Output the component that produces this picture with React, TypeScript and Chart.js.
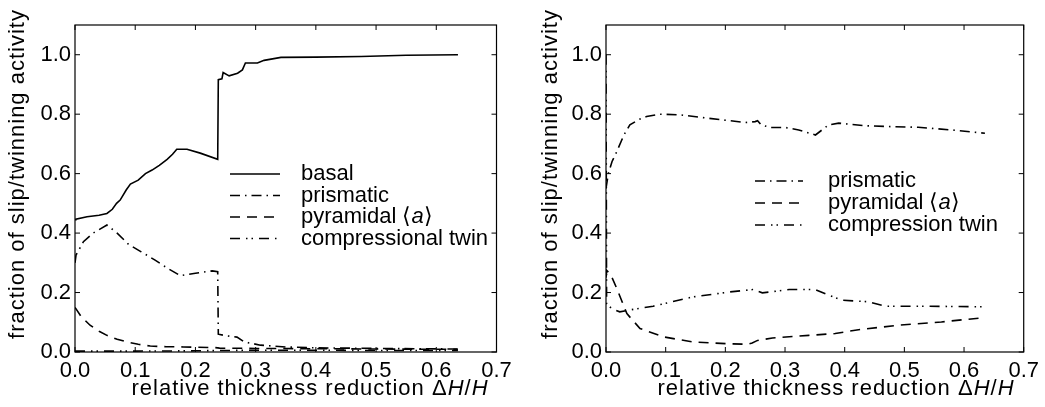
import React, { useEffect, useRef } from 'react';
import { Chart, registerables } from 'chart.js';
Chart.register(...registerables);

const FONT = '"Liberation Sans", Arial, sans-serif';
const FONT_SIZE = 22;

const xTicks = [0, 0.1, 0.2, 0.3, 0.4, 0.5, 0.6, 0.7];
const yTicks = [0, 0.2, 0.4, 0.6, 0.8, 1.0];

// ---- Left panel ----
const basalX = [0, 0.0015, 0.02, 0.04, 0.053, 0.062, 0.069, 0.075, 0.085, 0.092, 0.105, 0.117, 0.128, 0.14, 0.153, 0.162, 0.169, 0.186, 0.208, 0.237, 0.238, 0.244, 0.246, 0.256, 0.27, 0.278, 0.283, 0.303, 0.314, 0.342, 0.4, 0.475, 0.55, 0.636];
const basalY = [0.445, 0.447, 0.455, 0.46, 0.466, 0.48, 0.5, 0.511, 0.545, 0.565, 0.578, 0.6, 0.612, 0.628, 0.648, 0.665, 0.682, 0.682, 0.669, 0.648, 0.916, 0.919, 0.94, 0.929, 0.938, 0.949, 0.972, 0.972, 0.981, 0.991, 0.992, 0.994, 0.998, 1.0];

const prismLX = [0, 0.0017, 0.014, 0.03, 0.053, 0.07, 0.089, 0.11, 0.133, 0.155, 0.175, 0.2, 0.228, 0.237, 0.238, 0.25, 0.269, 0.281, 0.308, 0.35, 0.4, 0.5, 0.636];
const prismLY = [0.3, 0.326, 0.371, 0.4, 0.427, 0.4, 0.362, 0.337, 0.309, 0.28, 0.257, 0.265, 0.273, 0.27, 0.06, 0.055, 0.05, 0.034, 0.023, 0.017, 0.014, 0.012, 0.01];

const pyrLX = [0, 0.01, 0.025, 0.04, 0.053, 0.07, 0.086, 0.105, 0.125, 0.15, 0.18, 0.23, 0.237, 0.24, 0.3, 0.4, 0.5, 0.636];
const pyrLY = [0.15, 0.12, 0.09, 0.07, 0.056, 0.043, 0.034, 0.026, 0.02, 0.018, 0.017, 0.015, 0.014, 0.013, 0.012, 0.011, 0.01, 0.009];

const twinLX = [0, 0.1, 0.2, 0.24, 0.3, 0.4, 0.5, 0.636];
const twinLY = [0.003, 0.003, 0.004, 0.005, 0.006, 0.006, 0.005, 0.005];

// ---- Right panel ----
const prismRX = [0, 0.004, 0.01, 0.018, 0.03, 0.04, 0.055, 0.068, 0.09, 0.123, 0.168, 0.234, 0.25, 0.254, 0.26, 0.276, 0.301, 0.323, 0.351, 0.373, 0.39, 0.434, 0.479, 0.523, 0.579, 0.635];
const prismRY = [0.55, 0.601, 0.64, 0.674, 0.73, 0.764, 0.782, 0.792, 0.8, 0.798, 0.787, 0.772, 0.775, 0.778, 0.764, 0.755, 0.755, 0.747, 0.73, 0.764, 0.77, 0.761, 0.758, 0.756, 0.747, 0.736];

const pyrRX = [0, 0.001, 0.008, 0.018, 0.035, 0.057, 0.096, 0.145, 0.201, 0.237, 0.245, 0.254, 0.279, 0.34, 0.384, 0.423, 0.49, 0.562, 0.635];
const pyrRY = [0.25, 0.275, 0.26, 0.214, 0.129, 0.079, 0.051, 0.034, 0.028, 0.026, 0.03, 0.039, 0.047, 0.056, 0.062, 0.075, 0.09, 0.101, 0.116];

const twinRX = [0, 0.001, 0.01, 0.023, 0.05, 0.079, 0.145, 0.207, 0.246, 0.262, 0.307, 0.351, 0.373, 0.396, 0.44, 0.468, 0.535, 0.635];
const twinRY = [1.0, 0.163, 0.145, 0.135, 0.145, 0.154, 0.185, 0.202, 0.21, 0.199, 0.21, 0.21, 0.191, 0.174, 0.169, 0.154, 0.154, 0.152];

const DASH_SOLID: number[] = [];
const DASH_DASHDOT = [10, 5, 1.5, 5];
const DASH_DASHED = [10, 7];
const DASH_DASHDOTDOT = [10, 6, 1.5, 4, 1.5, 6];

type Seg = { t: string; i?: boolean };
const yLabelSegs: Seg[] = [{ t: 'fraction of slip/twinning activity' }];
const xLabelSegs: Seg[] = [{ t: 'relative thickness reduction Δ' }, { t: 'H', i: true }, { t: '/' }, { t: 'H', i: true }];

const leftSeries = [
  { label: [{ t: 'basal' }] as Seg[], x: basalX, y: basalY, dash: DASH_SOLID },
  { label: [{ t: 'prismatic' }] as Seg[], x: prismLX, y: prismLY, dash: DASH_DASHDOT },
  { label: [{ t: 'pyramidal ⟨' }, { t: 'a', i: true }, { t: '⟩' }] as Seg[], x: pyrLX, y: pyrLY, dash: DASH_DASHED },
  { label: [{ t: 'compressional twin' }] as Seg[], x: twinLX, y: twinLY, dash: DASH_DASHDOTDOT },
];
const rightSeries = [
  { label: [{ t: 'prismatic' }] as Seg[], x: prismRX, y: prismRY, dash: DASH_DASHDOT },
  { label: [{ t: 'pyramidal ⟨' }, { t: 'a', i: true }, { t: '⟩' }] as Seg[], x: pyrRX, y: pyrRY, dash: DASH_DASHED },
  { label: [{ t: 'compression twin' }] as Seg[], x: twinRX, y: twinRY, dash: DASH_DASHDOTDOT },
];

function fontFor(seg: Seg) {
  return `${seg.i ? 'italic ' : ''}${FONT_SIZE}px ${FONT}`;
}

function drawRich(ctx: any, segs: Seg[], x: number, y: number, align: 'left' | 'center', spacing: number) {
  ctx.save();
  ctx.letterSpacing = `${spacing}px`;
  let total = 0;
  const widths = segs.map((s) => {
    ctx.font = fontFor(s);
    const w = ctx.measureText(s.t).width;
    total += w;
    return w;
  });
  let cx = align === 'center' ? x - total / 2 : x;
  ctx.textBaseline = 'middle';
  ctx.textAlign = 'left';
  segs.forEach((s, k) => {
    ctx.font = fontFor(s);
    ctx.fillText(s.t, cx, y);
    cx += widths[k];
  });
  ctx.restore();
}

type Layout = {
  W: number;
  areaLeft: number;
  areaRight: number;
  legendX0: number;
  legendX1: number;
  legendTextX: number;
  legendRows: number[];
  yLabelPos: [number, number];
  xLabelPos: [number, number];
};

function makePlugin(series: typeof leftSeries, lay: Layout) {
  return {
    id: 'frameAndLegend',
    afterDraw(chart: any) {
      const { ctx, chartArea: a, scales } = chart;
      ctx.save();
      ctx.strokeStyle = '#000';
      ctx.fillStyle = '#000';
      ctx.setLineDash([]);
      ctx.lineWidth = 1.2;
      ctx.strokeRect(a.left, a.top, a.right - a.left, a.bottom - a.top);
      ctx.lineWidth = 1;
      const TL = 5;
      xTicks.forEach((v) => {
        const px = scales.x.getPixelForValue(v);
        ctx.beginPath();
        ctx.moveTo(px, a.bottom);
        ctx.lineTo(px, a.bottom - TL);
        ctx.moveTo(px, a.top);
        ctx.lineTo(px, a.top + TL);
        ctx.stroke();
      });
      yTicks.forEach((v) => {
        const py = scales.y.getPixelForValue(v);
        ctx.beginPath();
        ctx.moveTo(a.left, py);
        ctx.lineTo(a.left + TL, py);
        ctx.moveTo(a.right, py);
        ctx.lineTo(a.right - TL, py);
        ctx.stroke();
      });
      series.forEach((s, k) => {
        const ds = chart.data.datasets[k];
        const ry = lay.legendRows[k];
        ctx.setLineDash(ds.borderDash || []);
        ctx.lineWidth = ds.borderWidth;
        ctx.beginPath();
        ctx.moveTo(lay.legendX0, ry);
        ctx.lineTo(lay.legendX1, ry);
        ctx.stroke();
        ctx.setLineDash([]);
        drawRich(ctx, s.label, lay.legendTextX, ry, 'left', 0);
      });
      drawRich(ctx, xLabelSegs, lay.xLabelPos[0], lay.xLabelPos[1], 'center', 1);
      ctx.save();
      ctx.translate(lay.yLabelPos[0], lay.yLabelPos[1]);
      ctx.rotate(-Math.PI / 2);
      drawRich(ctx, yLabelSegs, 0, 0, 'center', 1);
      ctx.restore();
      ctx.restore();
    },
  };
}

function buildChart(canvas: HTMLCanvasElement, series: typeof leftSeries, lay: Layout) {
  return new Chart(canvas, {
    type: 'line',
    data: {
      datasets: series.map((s) => ({
        label: s.label.map((g) => g.t).join(''),
        data: s.x.map((x, i) => ({ x, y: s.y[i] })),
        borderColor: '#000',
        borderWidth: 1.6,
        borderDash: s.dash,
        pointRadius: 0,
        fill: false,
        tension: 0,
      })),
    },
    options: {
      responsive: false,
      animation: false,
      devicePixelRatio: 1,
      layout: { padding: { left: 0, top: 25, right: lay.W - lay.areaRight, bottom: 0 } },
      plugins: { legend: { display: false }, tooltip: { enabled: false } },
      scales: {
        x: {
          type: 'linear',
          min: 0,
          max: 0.7,
          grid: { display: false, drawTicks: false },
          border: { display: false },
          afterBuildTicks: (s: any) => {
            s.ticks = xTicks.map((v) => ({ value: v }));
          },
          afterFit: (s: any) => {
            s.height = 55;
          },
          ticks: {
            font: { family: FONT, size: FONT_SIZE },
            color: '#000',
            padding: 6,
            maxRotation: 0,
            autoSkip: false,
            callback: (v: any) => Number(v).toFixed(1),
          },
        },
        y: {
          type: 'linear',
          min: 0,
          max: 1.1,
          grid: { display: false, drawTicks: false },
          border: { display: false },
          afterBuildTicks: (s: any) => {
            s.ticks = yTicks.map((v) => ({ value: v }));
          },
          afterFit: (s: any) => {
            s.width = lay.areaLeft;
          },
          ticks: {
            font: { family: FONT, size: FONT_SIZE },
            color: '#000',
            padding: 4,
            autoSkip: false,
            callback: (v: any) => Number(v).toFixed(1),
          },
        },
      },
    } as any,
    plugins: [makePlugin(series, lay)],
  });
}

const leftLayout: Layout = {
  W: 522,
  areaLeft: 75,
  areaRight: 496.5,
  legendX0: 230,
  legendX1: 280,
  legendTextX: 301,
  legendRows: [174, 195.5, 217, 238.5],
  yLabelPos: [18, 174],
  xLabelPos: [310, 389],
};
const rightLayout: Layout = {
  W: 523,
  areaLeft: 84,
  areaRight: 505.5,
  legendX0: 233,
  legendX1: 281,
  legendTextX: 306,
  legendRows: [181, 203, 225],
  yLabelPos: [29, 174],
  xLabelPos: [314, 389],
};

export default function App() {
  const leftRef = useRef<HTMLCanvasElement>(null);
  const rightRef = useRef<HTMLCanvasElement>(null);
  useEffect(() => {
    document.body.style.margin = '0';
    const c1 = buildChart(leftRef.current!, leftSeries, leftLayout);
    const c2 = buildChart(rightRef.current!, rightSeries, rightLayout);
    return () => {
      c1.destroy();
      c2.destroy();
    };
  }, []);
  return (
    <div style={{ position: 'relative', width: 1045, height: 407, background: '#fff' }}>
      <canvas ref={leftRef} width={522} height={407} style={{ position: 'absolute', left: 0, top: 0, width: 522, height: 407 }} />
      <canvas ref={rightRef} width={523} height={407} style={{ position: 'absolute', left: 522, top: 0, width: 523, height: 407 }} />
    </div>
  );
}
